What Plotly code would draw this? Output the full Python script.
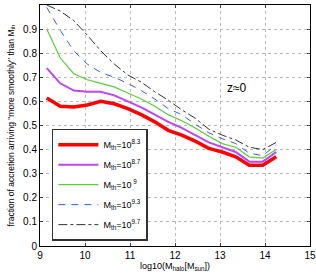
import plotly.graph_objects as go

log_mhalo = [9.15, 9.45, 9.75, 10.05, 10.35, 10.65, 10.95, 11.25, 11.55,
             11.85, 12.15, 12.45, 12.75, 13.05, 13.35, 13.65, 13.95, 14.25]

f_83 = [0.614, 0.58, 0.577, 0.585, 0.60, 0.59, 0.57, 0.545, 0.515,
        0.48, 0.46, 0.435, 0.405, 0.39, 0.37, 0.335, 0.335, 0.37]
f_87 = [0.738, 0.675, 0.645, 0.64, 0.64, 0.625, 0.60, 0.575, 0.545,
        0.515, 0.49, 0.46, 0.43, 0.41, 0.39, 0.35, 0.35, 0.39]
f_90 = [0.90, 0.78, 0.715, 0.69, 0.675, 0.66, 0.635, 0.61, 0.58,
        0.545, 0.52, 0.49, 0.455, 0.425, 0.41, 0.37, 0.365, 0.40]
f_93 = [0.99, 0.895, 0.81, 0.755, 0.72, 0.70, 0.675, 0.645, 0.61,
        0.57, 0.545, 0.505, 0.47, 0.445, 0.425, 0.385, 0.375, 0.42]
f_97 = [1.0, 0.975, 0.935, 0.875, 0.81, 0.755, 0.71, 0.68, 0.64,
        0.605, 0.565, 0.53, 0.485, 0.46, 0.44, 0.41, 0.40, 0.43]

labels = ["M<sub>th</sub>=10<sup>8.3</sup>",
          "M<sub>th</sub>=10<sup>8.7</sup>",
          "M<sub>th</sub>=10<sup> 9</sup>",
          "M<sub>th</sub>=10<sup>9.3</sup>",
          "M<sub>th</sub>=10<sup>9.7</sup>"]

x_ticks = [9, 10, 11, 12, 13, 14, 15]
y_ticks = [0, 0.1, 0.2, 0.3, 0.4, 0.5, 0.6, 0.7, 0.8, 0.9, 1]
y_ticklabels = ["0", "0.1", "0.2", "0.3", "0.4", "0.5", "0.6", "0.7", "0.8", "0.9", "1"]

series = [f_83, f_87, f_90, f_93, f_97]
styles = [
    dict(color="#ff0000", width=3.5, dash="solid"),
    dict(color="#bf45f5", width=2, dash="solid"),
    dict(color="#5ccc3c", width=1.2, dash="solid"),
    dict(color="#3a5cf0", width=1, dash="7px,6px"),
    dict(color="#333333", width=1, dash="dashdot"),
]

fig = go.Figure()
for i, (ys, lab, st) in enumerate(zip(series, labels, styles)):
    fig.add_trace(go.Scatter(x=log_mhalo, y=ys, mode="lines", name=lab,
                             legendgroup=f"g{i}", line=st, cliponaxis=True))

font_family = "Liberation Sans, Arial, sans-serif"
fig.update_layout(
    width=316, height=277,
    margin=dict(l=40, r=6, t=5, b=31, autoexpand=False),
    paper_bgcolor="white", plot_bgcolor="white",
    font=dict(family=font_family, size=10, color="#000"),
    showlegend=True,
    legend=dict(x=0.044, y=0.487, xanchor="left", yanchor="top",
                bgcolor="white", bordercolor="#333", borderwidth=1.5,
                font=dict(size=9), tracegroupgap=1, itemwidth=40),
    annotations=[dict(x=13.38, y=0.655, xref="x", yref="y", text="z≈0",
                      showarrow=False, font=dict(size=12))],
)
fig.update_xaxes(range=[9, 15], tickvals=x_ticks, ticks="inside", ticklen=3,
                 showline=True, mirror="ticks", linecolor="#000", linewidth=1,
                 showgrid=True, gridcolor="#bbbbbb", griddash="dot", gridwidth=1,
                 zeroline=False, automargin=False,
                 title=dict(text="log10(M<sub>halo</sub>[M<sub>sun</sub>])",
                            font=dict(size=9), standoff=0))
fig.update_yaxes(range=[0, 1], tickvals=y_ticks, ticktext=y_ticklabels,
                 ticks="inside", ticklen=3,
                 showline=True, mirror="ticks", linecolor="#000", linewidth=1,
                 showgrid=True, gridcolor="#bbbbbb", griddash="dot", gridwidth=1,
                 zeroline=False, automargin=False,
                 title=dict(text="fraction of accretion arriving \"more smoothly\" than M<sub>th</sub>",
                            font=dict(size=8.5), standoff=7))

fig.write_html("out.html", config={"displayModeBar": False},
               post_script="document.body.style.margin='0px';")
